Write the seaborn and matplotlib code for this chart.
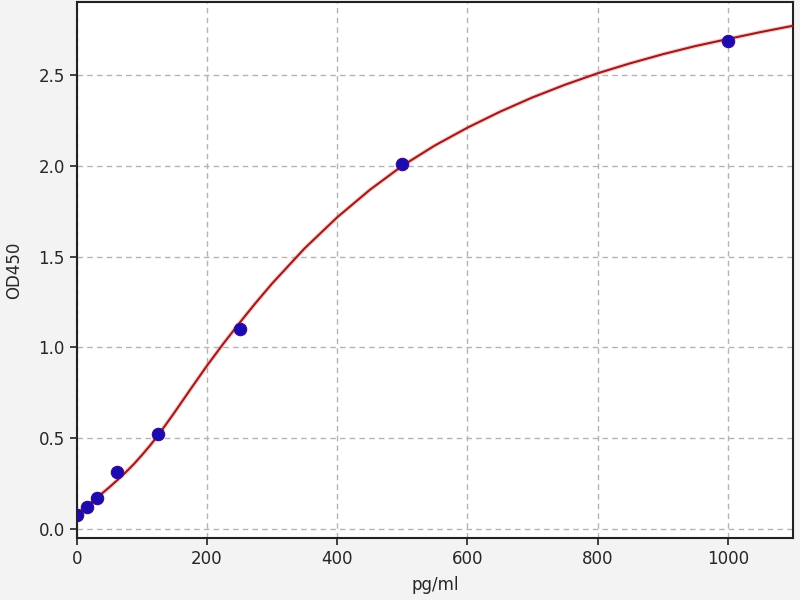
import pandas as pd
import matplotlib
matplotlib.use("Agg")
import matplotlib.pyplot as plt
import seaborn as sns

# Standard points (concentration vs OD)
conc = [0, 15.6, 31.25, 62.5, 125, 250, 500, 1000]
od = [0.075, 0.12, 0.17, 0.31, 0.524, 1.10, 2.01, 2.69]

# Fitted curve
curve_x = [0, 12.5, 25, 37.5, 50, 62.5, 75, 87.5, 100, 112.5, 125, 137.5, 150,
           175, 200, 225, 250, 275, 300, 350, 400, 450, 500, 550, 600, 650,
           700, 750, 800, 850, 900, 950, 1000, 1050, 1100]
curve_y = [0.08, 0.115, 0.152, 0.19, 0.228, 0.268, 0.31, 0.355, 0.405, 0.458,
           0.515, 0.577, 0.64, 0.77, 0.898, 1.019, 1.134, 1.245, 1.351, 1.545,
           1.716, 1.867, 2.0, 2.112, 2.21, 2.298, 2.377, 2.447, 2.51, 2.565,
           2.615, 2.66, 2.699, 2.737, 2.772]

x_ticks = [0, 200, 400, 600, 800, 1000]
y_ticks = [0.0, 0.5, 1.0, 1.5, 2.0, 2.5]

sns.set_style("ticks")
plt.rcParams['font.family'] = ['DejaVu Sans']

pts = pd.DataFrame({"pg/ml": conc, "OD450": od})
fit = pd.DataFrame({"pg/ml": curve_x, "OD450": curve_y})

fig = plt.figure(figsize=(8, 6), dpi=100, facecolor="#f3f3f3")
ax = fig.add_axes([0.096, 0.103, 0.895, 0.8945])
ax.set_facecolor("white")

# soft glow under the fit line
sns.lineplot(data=fit, x="pg/ml", y="OD450", ax=ax, color="#ff7070",
             linewidth=3.2, alpha=0.35, zorder=2)
sns.lineplot(data=fit, x="pg/ml", y="OD450", ax=ax, color="#9a1c1c",
             linewidth=1.5, zorder=3)
sns.scatterplot(data=pts, x="pg/ml", y="OD450", ax=ax, color="#1a0cb0",
                edgecolor="#3a0a8a", linewidth=0.8, s=80, zorder=4)

ax.set_xlim(0, 1100)
ax.set_ylim(-0.053, 2.906)
ax.set_xticks(x_ticks)
ax.set_yticks(y_ticks)
ax.set_yticklabels([f"{v:.1f}" for v in y_ticks])
ax.grid(True, linestyle=(0, (4, 3)), color="#b4b4b4", linewidth=1.0)
ax.set_axisbelow(True)
ax.tick_params(labelsize=12, length=5, width=1.2, color="#222222")
for s in ax.spines.values():
    s.set_linewidth(1.5)
    s.set_color("#222222")
ax.set_xlabel("pg/ml", fontsize=12, labelpad=6)
ax.set_ylabel("OD450", fontsize=12, labelpad=11)

fig.savefig("out.png", dpi=100, facecolor=fig.get_facecolor())
